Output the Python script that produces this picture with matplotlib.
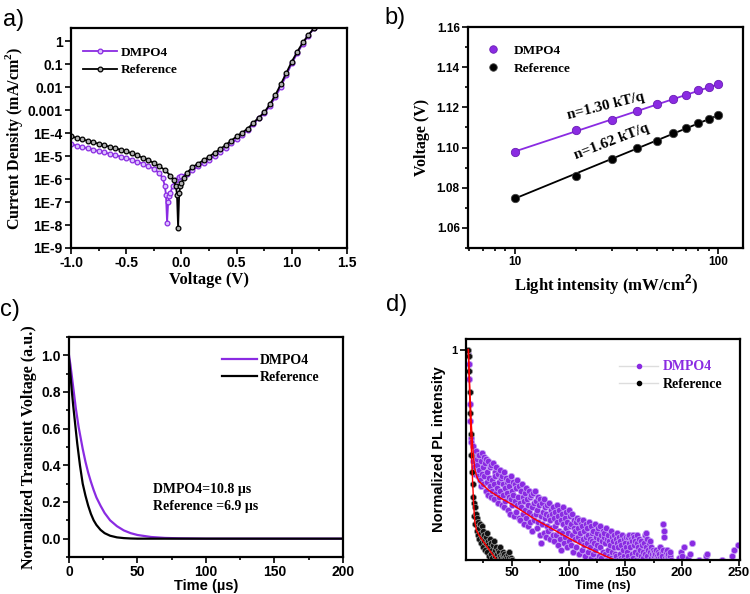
import numpy as np
import matplotlib.pyplot as plt
from matplotlib.ticker import FixedLocator, MultipleLocator, NullLocator, FuncFormatter
from matplotlib.lines import Line2D

plt.rcParams['font.family'] = ['Liberation Sans', 'DejaVu Sans']
plt.rcParams['font.weight'] = 'bold'
plt.rcParams['axes.labelweight'] = 'bold'
plt.rcParams['mathtext.fontset'] = 'custom'
plt.rcParams['mathtext.rm'] = 'Liberation Sans:bold'
plt.rcParams['mathtext.bf'] = 'Liberation Serif:bold'

purple = '#8a2be2'
serif = ['Liberation Serif', 'DejaVu Serif']

# ---- a) dark J-V, log10 of current density (mA/cm2)
v_ref = [-1.00, -0.95, -0.90, -0.85, -0.80, -0.75, -0.70, -0.65, -0.60, -0.55,
         -0.50, -0.45, -0.40, -0.35, -0.30, -0.25, -0.20, -0.15, -0.10, -0.07,
         -0.05, -0.04, -0.03, -0.02, -0.01, 0.00, 0.02, 0.05, 0.10, 0.15,
         0.20, 0.25, 0.30, 0.35, 0.40, 0.45, 0.50, 0.55, 0.60, 0.65,
         0.70, 0.75, 0.80, 0.85, 0.90, 0.95, 1.00, 1.05, 1.10, 1.15, 1.20]
logj_ref = [-4.14, -4.20, -4.27, -4.33, -4.40, -4.46, -4.53, -4.59, -4.66, -4.72,
            -4.79, -4.88, -4.97, -5.07, -5.17, -5.30, -5.44, -5.60, -5.85, -6.05,
            -6.30, -6.70, -8.13, -6.60, -6.30, -6.15, -5.95, -5.73, -5.48, -5.33,
            -5.18, -5.03, -4.85, -4.70, -4.52, -4.33, -4.14, -3.98, -3.80, -3.56,
            -3.32, -3.10, -2.75, -2.35, -1.87, -1.38, -0.88, -0.45, -0.05, 0.28, 0.56]
v_dmpo = [-1.00, -0.95, -0.90, -0.85, -0.80, -0.75, -0.70, -0.65, -0.60, -0.55,
          -0.50, -0.45, -0.40, -0.35, -0.30, -0.25, -0.20, -0.17, -0.15, -0.14,
          -0.13, -0.12, -0.11, -0.10, -0.08, -0.05, -0.02, 0.00, 0.05, 0.10,
          0.15, 0.20, 0.25, 0.30, 0.35, 0.40, 0.45, 0.50, 0.55, 0.60,
          0.65, 0.70, 0.75, 0.80, 0.85, 0.90, 0.95, 1.00, 1.05, 1.10, 1.15, 1.20]
logj_dmpo = [-4.48, -4.54, -4.60, -4.66, -4.72, -4.78, -4.84, -4.90, -4.96, -5.02,
             -5.08, -5.16, -5.24, -5.33, -5.43, -5.55, -5.75, -5.95, -6.30, -6.70,
             -7.90, -7.00, -6.75, -6.60, -6.30, -6.05, -5.92, -5.86, -5.76, -5.62,
             -5.45, -5.30, -5.15, -4.98, -4.82, -4.64, -4.45, -4.26, -4.06, -3.86,
             -3.62, -3.36, -3.14, -2.82, -2.44, -1.98, -1.48, -0.96, -0.52, -0.10, 0.25, 0.56]
ytick_text = {-9: '1E-9', -8: '1E-8', -7: '1E-7', -6: '1E-6', -5: '1E-5', -4: '1E-4',
              -3: '0.001', -2: '0.01', -1: '0.1', 0: '1'}

# ---- b) Voc vs light intensity
light = [10, 20, 30, 40, 50, 60, 70, 80, 90, 100]
voc_dmpo = [1.098, 1.1085, 1.1135, 1.118, 1.1215, 1.124, 1.126, 1.1285, 1.130, 1.1315]
voc_ref = [1.075, 1.086, 1.0945, 1.100, 1.1035, 1.107, 1.1095, 1.112, 1.114, 1.116]

# ---- c) transient photovoltage
t_c = [0, 1, 2, 3, 4, 5, 6, 7, 8, 10, 12, 14, 16, 18, 20, 23, 26, 30, 35, 40,
       45, 50, 60, 70, 80, 100, 150, 200]
tpv_dmpo = [1.0, 0.95, 0.89, 0.83, 0.77, 0.71, 0.66, 0.61, 0.57, 0.49, 0.42, 0.36,
            0.31, 0.265, 0.225, 0.18, 0.14, 0.10, 0.068, 0.045, 0.03, 0.02, 0.009,
            0.004, 0.002, 0.0, 0.0, 0.0]
tpv_ref = [0.98, 0.90, 0.81, 0.73, 0.66, 0.59, 0.52, 0.46, 0.40, 0.30, 0.235, 0.18,
           0.135, 0.10, 0.075, 0.048, 0.03, 0.016, 0.007, 0.003, 0.001, 0.0, 0.0,
           0.0, 0.0, 0.0, 0.0, 0.0]

# ---- d) TRPL, channels every 0.5 ns starting at 11.5 ns
pl_dmpo = [0.98, 0.93, 0.86, 0.74, 0.66, 0.58, 0.56, 0.50, 0.54, 0.47,
           0.51, 0.44, 0.49, 0.41, 0.52, 0.45, 0.48, 0.40, 0.50, 0.43,
           0.50, 0.38, 0.47, 0.35, 0.51, 0.41, 0.44, 0.36, 0.49, 0.40,
           0.46, 0.33, 0.48, 0.37, 0.42, 0.31, 0.47, 0.39, 0.35, 0.44,
           0.30, 0.45, 0.38, 0.33, 0.46, 0.36, 0.29, 0.42, 0.40, 0.32,
           0.44, 0.34, 0.27, 0.41, 0.37, 0.30, 0.43, 0.33, 0.39, 0.26,
           0.40, 0.31, 0.36, 0.25, 0.42, 0.34, 0.28, 0.39, 0.32, 0.37,
           0.24, 0.38, 0.30, 0.35, 0.22, 0.40, 0.29, 0.33, 0.26, 0.37,
           0.31, 0.21, 0.36, 0.28, 0.34, 0.23, 0.38, 0.26, 0.30, 0.20,
           0.35, 0.27, 0.19, 0.33, 0.25, 0.36, 0.22, 0.30, 0.28, 0.17,
           0.32, 0.24, 0.34, 0.20, 0.29, 0.26, 0.16, 0.33, 0.23, 0.30,
           0.18, 0.31, 0.25, 0.14, 0.32, 0.21, 0.27, 0.19, 0.33, 0.22,
           0.28, 0.15, 0.24, 0.30, 0.18, 0.26, 0.12, 0.29, 0.21, 0.08,
           0.27, 0.17, 0.23, 0.13, 0.29, 0.20, 0.25, 0.11, 0.22, 0.16,
           0.26, 0.14, 0.21, 0.27, 0.10, 0.19, 0.24, 0.15, 0.22, 0.12,
           0.25, 0.09, 0.20, 0.16, 0.23, 0.12, 0.26, 0.18, 0.07, 0.21,
           0.14, 0.24, 0.10, 0.19, 0.05, 0.22, 0.13, 0.17, 0.25, 0.08,
           0.20, 0.11, 0.23, 0.15, 0.06, 0.18, 0.13, 0.24, 0.09, 0.16,
           0.21, 0.07, 0.17, 0.12, 0.22, 0.04, 0.15, 0.19, 0.10, 0.14,
           0.18, 0.06, 0.20, 0.11, 0.15, 0.03, 0.19, 0.09, 0.13, 0.17,
           0.05, 0.16, 0.10, 0.19, 0.07, 0.14, 0.02, 0.17, 0.11, 0.08,
           0.15, 0.04, 0.12, 0.18, 0.06, 0.10, 0.01, 0.16, 0.09, 0.13,
           0.03, 0.14, 0.08, 0.17, 0.05, 0.11, 0.00, 0.13, 0.07, 0.15,
           0.10, 0.02, 0.16, 0.06, 0.12, 0.01, 0.09, 0.14, 0.04, 0.11,
           0.13, 0.03, 0.08, 0.15, 0.00, 0.10, 0.05, 0.12, 0.02, 0.09,
           0.07, 0.14, 0.01, 0.11, 0.04, 0.09, 0.00, 0.12, 0.06, 0.03,
           0.10, 0.02, 0.08, 0.13, 0.00, 0.06, 0.11, 0.03, 0.09, 0.01,
           0.07, 0.12, 0.00, 0.05, 0.10, 0.02, 0.08, 0.00, 0.06, 0.11,
           0.04, 0.11, 0.02, 0.08, 0.12, 0.00, 0.06, 0.10, 0.03, 0.09,
           0.12, 0.01, 0.07, 0.11, 0.04, 0.09, 0.00, 0.08, 0.12, 0.03,
           0.06, 0.10, 0.00, 0.05, 0.09, 0.02, 0.07, 0.00, 0.04, 0.01,
           0.08, 0.03, 0.12, 0.06, 0.13, 0.02, 0.10, 0.05, 0.08, 0.00,
           0.04, 0.09, 0.01, 0.06, 0.03, 0.00, 0.05, 0.02, 0.04, 0.00,
           0.03, 0.00, 0.05, 0.02, 0.04, 0.01, 0.00, 0.03, 0.06, 0.01,
           0.00, 0.04, 0.02, 0.05, 0.17, 0.14, 0.11, 0.01, 0.04, 0.00,
           0.02, 0.05, 0.01, 0.03, 0.00, 0.02, 0.04, 0.00]
pl_tail_t = [197, 199, 200, 202, 205, 207, 209, 215, 221, 222, 235, 244, 246, 249]
pl_tail_y = [0.01, 0.04, 0.02, 0.06, 0.01, 0.03, 0.08, 0.00, 0.02, 0.03, 0.00, 0.02, 0.05, 0.07]
pl_ref = [1.00, 0.97, 0.90, 0.80, 0.70, 0.60, 0.50, 0.42, 0.36, 0.30,
          0.27, 0.21, 0.25, 0.17, 0.22, 0.14, 0.20, 0.12, 0.18, 0.15,
          0.10, 0.17, 0.13, 0.08, 0.16, 0.11, 0.06, 0.14, 0.09, 0.12,
          0.05, 0.11, 0.08, 0.13, 0.04, 0.09, 0.07, 0.02, 0.10, 0.06,
          0.03, 0.08, 0.05, 0.01, 0.07, 0.04, 0.09, 0.02, 0.05, 0.00,
          0.06, 0.03, 0.01, 0.05, 0.00, 0.04, 0.02, 0.06, 0.01, 0.03,
          0.00, 0.02, 0.04, 0.01, 0.03, 0.00, 0.01, 0.02, 0.00, 0.01,
          0.03, 0.00, 0.01, 0.04, 0.00, 0.01, 0.00, 0.00]
fit_dmpo_t = [11.8, 12.5, 13.5, 14.5, 15.5, 16.5, 17.5, 19, 21, 24, 30, 40, 50, 60,
              70, 80, 90, 100, 110, 120, 130, 140.6]
fit_dmpo_y = [1.0, 0.90, 0.76, 0.64, 0.55, 0.48, 0.43, 0.40, 0.375, 0.36, 0.33, 0.295,
              0.265, 0.23, 0.195, 0.165, 0.135, 0.105, 0.075, 0.05, 0.025, 0.0]
fit_ref_t = [11.8, 12.5, 13.5, 14.5, 15.5, 16.5, 17.5, 19, 21, 24, 28, 32, 36.8]
fit_ref_y = [1.0, 0.86, 0.68, 0.52, 0.38, 0.26, 0.18, 0.14, 0.12, 0.095, 0.065, 0.035, 0.0]


def frame(ax):
    for s in ax.spines.values():
        s.set_linewidth(1.6)
    ax.tick_params(which='both', direction='out', width=1.2, labelsize=10, pad=2)
    ax.tick_params(which='major', length=4)
    ax.tick_params(which='minor', length=2.5)


fig = plt.figure(figsize=(7.5, 5.94), dpi=100)

# a)
ax1 = fig.add_axes([0.0947, 0.5825, 0.368, 0.3704])
ax1.semilogy(v_dmpo, 10.0 ** np.array(logj_dmpo), '-o', color=purple, ms=3.4,
             mfc='#dcc2ff', mew=0.9, lw=1.3, label='DMPO4')
ax1.semilogy(v_ref, 10.0 ** np.array(logj_ref), '-o', color='black', ms=3.4,
             mfc='#b0b0b0', mew=0.9, lw=1.3, label='Reference')
ax1.set_xlim(-1.0, 1.5)
ax1.set_ylim(1e-9, 3.8)
ax1.yaxis.set_major_locator(FixedLocator(10.0 ** np.arange(-9, 1)))
ax1.yaxis.set_minor_locator(NullLocator())
ax1.yaxis.set_major_formatter(FuncFormatter(lambda y, p: ytick_text.get(int(round(np.log10(y))), '')))
ax1.xaxis.set_major_locator(MultipleLocator(0.5))
ax1.xaxis.set_minor_locator(MultipleLocator(0.25))
ax1.xaxis.set_major_formatter(FuncFormatter(lambda x, p: '%.1f' % x))
frame(ax1)
ax1.set_xlabel('Voltage (V)', family=serif, fontsize=12, labelpad=1)
ax1.set_ylabel('Current Density (mA/cm$^{\\mathbf{2}}$)', family=serif, fontsize=11.5, labelpad=2)
ax1.legend(loc='upper left', bbox_to_anchor=(0.0, 0.97), frameon=False, handlelength=2.6,
           numpoints=1, handletextpad=0.3, labelspacing=0.4,
           prop={'family': serif, 'weight': 'bold', 'size': 9.5})

# b)
ax2 = fig.add_axes([0.624, 0.5825, 0.3667, 0.372])
lx = np.log10(light)
for vals, col, lab in [(voc_dmpo, purple, 'DMPO4'), (voc_ref, 'black', 'Reference')]:
    k, b = np.polyfit(lx, vals, 1)
    ax2.plot(light, k * lx + b, '-', color=col, lw=1.3)
    ax2.plot(light, vals, 'o', color=col, ms=6, mec='#444444' if col == 'black' else '#6a1cb5',
             mew=0.6, label=lab, ls='none')
ax2.set_xscale('log')
ax2.set_xlim(5.9, 133)
ax2.set_ylim(1.05, 1.16)
ax2.xaxis.set_major_locator(FixedLocator([10, 100]))
ax2.xaxis.set_major_formatter(FuncFormatter(lambda x, p: '%d' % x))
ax2.xaxis.set_minor_locator(FixedLocator([6, 7, 8, 9, 20, 30, 40, 50, 60, 70, 80, 90]))
ax2.xaxis.set_minor_formatter(FuncFormatter(lambda x, p: ''))
ax2.yaxis.set_major_locator(MultipleLocator(0.02))
ax2.yaxis.set_minor_locator(MultipleLocator(0.01))
ax2.yaxis.set_major_formatter(FuncFormatter(lambda y, p: '%.2f' % y))
frame(ax2)
ax2.tick_params(labelsize=8.5)
ax2.set_xlabel('Light intensity (mW/cm$^{\\mathrm{2}}$)', family=serif, fontsize=12, labelpad=3)
ax2.set_ylabel('Voltage (V)', family=serif, fontsize=11.5, labelpad=5)
ax2.text(28, 1.1205, 'n=1.30 kT/q', family=serif, weight='bold', fontsize=11, rotation=14,
         ha='center', va='center')
ax2.text(30, 1.1031, 'n=1.62 kT/q', family=serif, weight='bold', fontsize=11, rotation=21,
         ha='center', va='center')
ax2.legend(loc='upper left', bbox_to_anchor=(0.0, 0.975), frameon=False, handletextpad=0.6,
           labelspacing=0.45, markerscale=0.9, prop={'family': serif, 'weight': 'bold', 'size': 9.5})

# c)
ax3 = fig.add_axes([0.092, 0.0623, 0.3653, 0.3704])
ax3.plot(t_c, tpv_dmpo, color=purple, lw=1.6, label='DMPO4')
ax3.plot(t_c, tpv_ref, color='black', lw=1.6, label='Reference')
ax3.set_xlim(0, 200)
ax3.set_ylim(-0.1, 1.1)
ax3.xaxis.set_major_locator(MultipleLocator(50))
ax3.xaxis.set_minor_locator(MultipleLocator(25))
ax3.yaxis.set_major_locator(MultipleLocator(0.2))
ax3.yaxis.set_minor_locator(MultipleLocator(0.1))
ax3.yaxis.set_major_formatter(FuncFormatter(lambda y, p: '%.1f' % y))
frame(ax3)
ax3.set_xlabel('Time (\u00b5s)', fontsize=10.5, labelpad=0)
ax3.set_ylabel('Normalized Transient Voltage (a.u.)', family=serif, fontsize=11.5, labelpad=3)
ax3.text(61, 0.27, 'DMPO4=10.8 \u00b5s', family=serif, weight='bold', fontsize=10, va='center')
ax3.text(61, 0.175, 'Reference =6.9 \u00b5s', family=serif, weight='bold', fontsize=10, va='center')
ax3.legend(loc='upper right', bbox_to_anchor=(0.96, 0.98), frameon=False, handlelength=2.5,
           handletextpad=0.2, labelspacing=0.3, prop={'family': serif, 'weight': 'bold', 'size': 10})

# d)
ax4 = fig.add_axes([0.6213, 0.0572, 0.3653, 0.372])
t_pl = 11.5 + 0.5 * np.arange(len(pl_dmpo))
t_ref = 11.5 + 0.5 * np.arange(len(pl_ref))
ax4.plot(np.concatenate([t_pl, pl_tail_t]), np.concatenate([pl_dmpo, pl_tail_y]), 'o',
         color=purple, ms=4.6, mec='#c7a2f5', mew=0.5, ls='none')
ax4.plot(t_ref, pl_ref, 'o', color='#111111', ms=4.4, mec='#9a9a9a', mew=0.5, ls='none')
ax4.plot(fit_dmpo_t, fit_dmpo_y, color='red', lw=1.0)
ax4.plot(fit_ref_t, fit_ref_y, color='red', lw=1.0)
ax4.set_xlim(9.7, 251)
ax4.set_ylim(0, 1.05)
ax4.xaxis.set_major_locator(FixedLocator([50, 100, 150, 200, 250]))
ax4.xaxis.set_minor_locator(FixedLocator([25, 75, 125, 175, 225]))
ax4.yaxis.set_major_locator(FixedLocator([1]))
ax4.yaxis.set_minor_locator(NullLocator())
frame(ax4)
ax4.tick_params(axis='x', labelsize=9.5, pad=1)
ax4.tick_params(axis='y', labelsize=8)
ax4.set_xlabel('Time (ns)', fontsize=9, labelpad=1)
ax4.set_ylabel('Normalized PL intensity', fontsize=10.5, labelpad=4)
hd = [Line2D([], [], color='#dddddd', lw=1, marker='o', ms=3, mfc=purple, mec=purple),
      Line2D([], [], color='#dddddd', lw=1, marker='o', ms=3, mfc='black', mec='black')]
leg = ax4.legend(hd, ['DMPO4', 'Reference'], loc='upper right', bbox_to_anchor=(0.98, 0.96),
                 frameon=False, handlelength=2.8, handletextpad=0.3, labelspacing=0.35,
                 prop={'family': serif, 'weight': 'bold', 'size': 10})
leg.get_texts()[0].set_color(purple)

# panel letters
for s, x, y in [('a)', 0.004, 0.966), ('b)', 0.512, 0.97), ('c)', 0.0, 0.478), ('d)', 0.515, 0.486)]:
    fig.text(x, y, s, fontsize=17, weight='normal', va='center', ha='left')

fig.savefig('out.png', dpi=100)
